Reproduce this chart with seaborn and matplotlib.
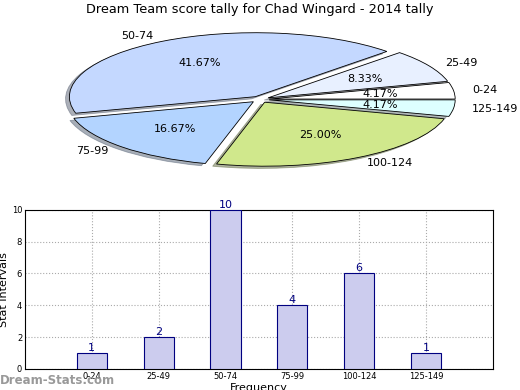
import pandas as pd
import matplotlib
matplotlib.use("Agg")
import matplotlib.pyplot as plt
import seaborn as sns

# data
intervals = ["0-24", "25-49", "50-74", "75-99", "100-124", "125-149"]
counts = [1, 2, 10, 4, 6, 1]
pie_colors = ["#ffffff", "#e8f0ff", "#c4d8ff", "#b3d4ff", "#d0e88c", "#ddffff"]

df = pd.DataFrame({"Interval": intervals, "Count": counts})

sns.set_style("white")
plt.rcParams["font.family"] = ["DejaVu Sans"]
plt.rcParams["text.color"] = "black"
plt.rcParams["axes.labelcolor"] = "black"
plt.rcParams["xtick.color"] = "black"
plt.rcParams["ytick.color"] = "black"

fig = plt.figure(figsize=(5.2, 3.9), dpi=100)

# ---- pie ----
ax1 = fig.add_axes([0.053, 0.54, 0.894, 0.41])
ax1.pie(df["Count"], labels=df["Interval"], colors=pie_colors,
        explode=[0.05] * len(counts), autopct="%1.2f%%",
        shadow={"ox": -0.015, "oy": -0.025, "shade": 0.55},
        startangle=0, counterclock=True,
        wedgeprops={"edgecolor": "black", "linewidth": 0.6},
        textprops={"fontsize": 8})
ax1.set_aspect("auto")
ax1.set_xlim(-1.25, 1.25)
ax1.set_ylim(-1.25, 1.25)
fig.text(0.5, 0.975, "Dream Team score tally for Chad Wingard - 2014 tally",
         ha="center", va="center", fontsize=9.3)

# ---- bars ----
ax2 = fig.add_axes([0.048, 0.054, 0.9, 0.408])
sns.barplot(data=df, x="Interval", y="Count", ax=ax2, color="#ccccee",
            saturation=1, width=0.45, edgecolor="#000080", linewidth=0.8,
            zorder=3)
for i, c in enumerate(counts):
    ax2.text(i, c, str(c), ha="center", va="bottom", color="#000080", fontsize=8)
ax2.set_xlim(-1, 6)
ax2.set_ylim(0, 10)
ax2.set_yticks([0, 2, 4, 6, 8, 10])
ax2.grid(True, linestyle=":", color="#aaaaaa", linewidth=0.8, zorder=0)
ax2.tick_params(axis="both", labelsize=6, direction="in", length=3, pad=2)
ax2.set_xlabel("Frequency", fontsize=8, labelpad=2)
ax2.set_ylabel("Stat Intervals", fontsize=8, labelpad=2)
for s in ax2.spines.values():
    s.set_color("black")
    s.set_linewidth(0.8)

fig.text(0.0, 0.025, "Dream-Stats.com", color="#999999", fontsize=8.5,
         fontweight="bold", ha="left", va="center")

fig.savefig("out.png", dpi=100)
